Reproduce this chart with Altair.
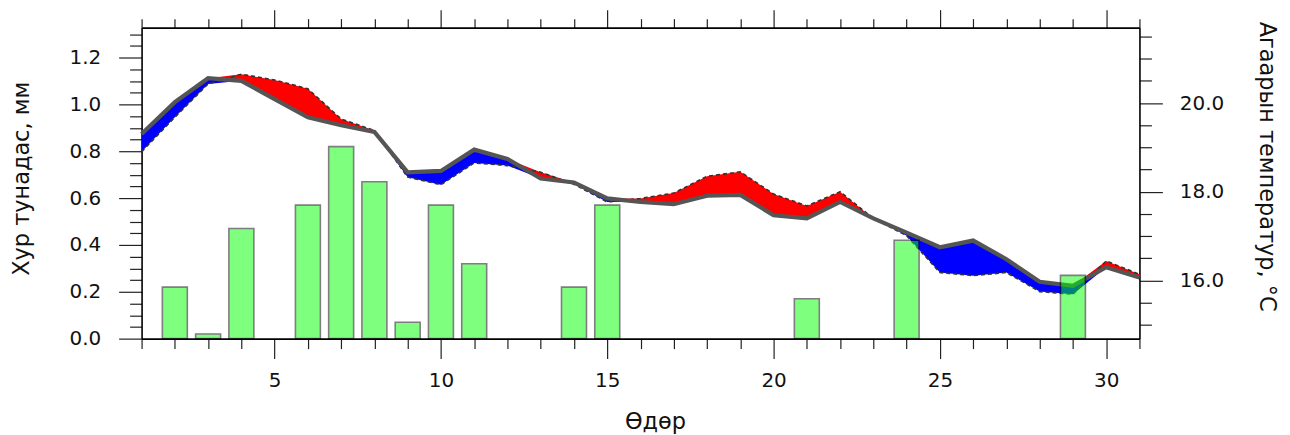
import altair as alt
import pandas as pd

# ---------------- data ----------------
days = list(range(1, 32))
temp_normal = [19.30, 20.02, 20.56, 20.50, 20.09, 19.68, 19.50, 19.35, 18.44, 18.47,
               18.95, 18.74, 18.30, 18.21, 17.85, 17.77, 17.72, 17.91, 17.93, 17.47,
               17.40, 17.77, 17.40, 17.08, 16.75, 16.90, 16.48, 15.97, 15.88, 16.30,
               16.07]
temp_actual = [18.90, 19.68, 20.43, 20.65, 20.52, 20.32, 19.64, 19.38, 18.33, 18.16,
               18.65, 18.59, 18.44, 18.17, 17.77, 17.85, 17.97, 18.35, 18.45, 17.95,
               17.68, 18.00, 17.40, 17.01, 16.18, 16.11, 16.18, 15.75, 15.69, 16.44,
               16.14]
rain_days = [2, 3, 4, 6, 7, 8, 9, 10, 11, 14, 15, 21, 24, 29]
rain_mm = [0.22, 0.02, 0.47, 0.57, 0.82, 0.67, 0.07, 0.57, 0.32, 0.22, 0.57, 0.17, 0.42, 0.27]

x_ticks = days
p_ticks = [round(i * 0.05, 2) for i in range(27)]
t_ticks = [15 + 0.5 * i for i in range(14)]

temp_df = pd.DataFrame({"day": days, "normal": temp_normal, "actual": temp_actual})
rain_df = pd.DataFrame({"day": rain_days, "rain": rain_mm})

FONT = "DejaVu Sans"
x_scale = alt.Scale(domain=[1, 31], nice=False, zero=False)
t_scale = alt.Scale(domain=[14.69, 21.70], nice=False, zero=False)
p_scale = alt.Scale(domain=[0, 1.328], nice=False, zero=False)

common = dict(grid=False, domainColor="#000000", domainWidth=1.6, tickColor="#222222",
              tickWidth=1.2, labelFont=FONT, titleFont=FONT, labelFontSize=20,
              titleFontSize=22.5, labelColor="#111111", titleColor="#111111",
              titleFontWeight="normal")


def minor_dash(test, length):
    # major ticks drawn solid, minor ticks shortened with a dash pattern
    return {"condition": {"test": test, "value": [1000, 0]}, "value": [length, 1000]}


x_test = "datum.value % 5 === 0"
t_test = "datum.value % 2 === 0"
p_test = "round(datum.value * 100) % 20 === 0"

x_bottom_axis = alt.Axis(orient="bottom", values=x_ticks, title="Өдөр",
                         labelExpr="datum.value % 5 === 0 ? datum.label : ''",
                         tickSize=20, tickDash=minor_dash(x_test, 10),
                         labelPadding=12, titlePadding=20, titleX=515, labelFlush=False, **common)
x_top_axis = alt.Axis(orient="top", values=x_ticks, title=None, labels=False,
                      tickSize=18, tickDash=minor_dash(x_test, 9), **common)
t_axis = alt.Axis(orient="right", values=t_ticks, title="Агаарын температур,  °C",
                  labelExpr="datum.value % 2 === 0 ? format(datum.value, '.1f') : ''",
                  tickSize=23, tickDash=minor_dash(t_test, 12),
                  labelPadding=17, titlePadding=31, titleY=139, labelFlush=False, **common)
p_axis = alt.Axis(orient="left", values=p_ticks, title="Хур тунадас, мм",
                  labelExpr="round(datum.value * 100) % 20 === 0 ? format(datum.value, '.1f') : ''",
                  tickSize=23, tickDash=minor_dash(p_test, 12),
                  labelPadding=18, titlePadding=36, titleY=151, labelFlush=False, **common)

X = alt.X("day:Q", scale=x_scale, axis=x_bottom_axis)
base_t = alt.Chart(temp_df)

red = base_t.transform_calculate(hi="max(datum.actual, datum.normal)").mark_area(
    color="#ff0000", opacity=1).encode(
    x=X, y=alt.Y("hi:Q", scale=t_scale, axis=t_axis), y2="normal:Q")
blue = base_t.transform_calculate(lo="min(datum.actual, datum.normal)").mark_area(
    color="#0000ff", opacity=1).encode(
    x=X, y=alt.Y("lo:Q", scale=t_scale, axis=t_axis), y2="normal:Q")
dashed = base_t.mark_line(color="#333333", strokeWidth=1.6, strokeDash=[4, 3]).encode(
    x=X, y=alt.Y("actual:Q", scale=t_scale, axis=t_axis))
gray = base_t.mark_line(color="#555555", strokeWidth=4.2).encode(
    x=X, y=alt.Y("normal:Q", scale=t_scale, axis=t_axis))

temp_layer = alt.layer(red, blue, dashed, gray)

bars = alt.Chart(rain_df).transform_calculate(
    x0="datum.day - 0.375", x1="datum.day + 0.375").mark_bar(
    color="#00ff00", opacity=0.5, stroke="#000000", strokeWidth=1.6).encode(
    x=alt.X("x0:Q", scale=x_scale, axis=x_top_axis),
    x2="x1:Q",
    y=alt.Y("rain:Q", scale=p_scale, axis=p_axis),
    y2=alt.datum(0))

chart = alt.layer(temp_layer, bars).resolve_scale(
    x="independent", y="independent").properties(
    width=1001, height=312,
    padding={"left": 2, "top": 0, "right": 4, "bottom": 0},
    background="#ffffff").configure_view(stroke=None)

chart.save("out.html", embed_options={"renderer": "svg", "actions": False})
